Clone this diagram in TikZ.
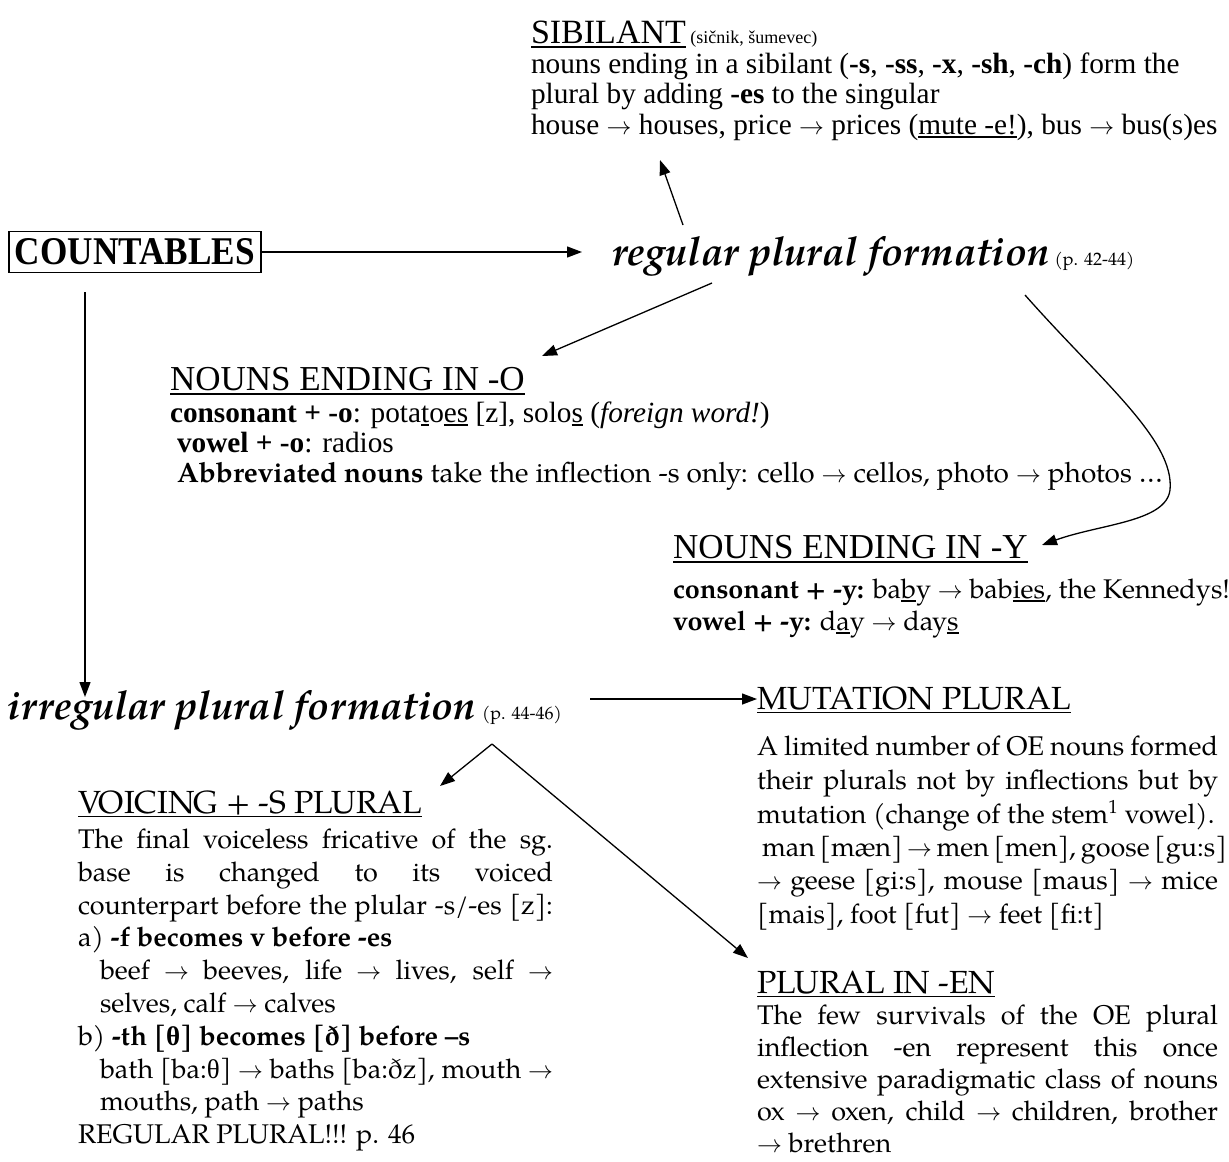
\documentclass[tikz,border=0pt]{standalone}
\usepackage{fontspec}
\usepackage{graphicx}
\setmainfont{Liberation Serif}
\newfontfamily\tms{Liberation Serif}
\newfontfamily\pal{TeX Gyre Pagella}
\usetikzlibrary{arrows.meta}
\newcommand\uln[1]{\setbox0\hbox{#1}\rlap{\rule[-0.14em]{\wd0}{0.055em}}\box0\relax}
\newcommand\jl[2]{\makebox[#1pt][s]{#2}}
\newcommand\bodyT{\tms\fontsize{29.3}{33}\selectfont}
\newcommand\bodyP{\pal\fontsize{27}{33}\selectfont}
\newcommand\headT{\tms\fontsize{35}{38}\selectfont}
\newcommand\headP{\pal\fontsize{32}{36}\selectfont}
\newcommand\smallP{\pal\fontsize{18}{20}\selectfont}
\newcommand\bigBI{\pal\bfseries\itshape\fontsize{40}{44}\selectfont}
\newcommand\rar{$\rightarrow$}
\tikzset{
  txt/.style={anchor=base west, inner sep=0pt, outer sep=0pt},
  con/.style={line width=1.3pt, -{Triangle[length=15pt,width=11pt]}},
}
\begin{document}
\begin{tikzpicture}[x=1pt,y=-1pt]
\useasboundingbox (0,0) rectangle (1229,1162);
\fill[white] (0,0) rectangle (1229,1162);

% SIBILANT block
\node[txt] (sibh) at (531,43) {\tms\fontsize{34}{36}\selectfont\uln{SIBILANT}\fontsize{18}{20}\selectfont\ (sičnik, šumevec)};
\node[txt] (sib1) at (531,73) {\bodyT nouns ending in a sibilant (\textbf{-s}, \textbf{-ss}, \textbf{-x}, \textbf{-sh}, \textbf{-ch}) form the};
\node[txt] (sib2) at (531,103) {\bodyT plural by adding \textbf{-es} to the singular};
\node[txt] (sib3) at (531,134) {\bodyT house \rar{} houses, price \rar{} prices (\uln{mute -e!}), bus \rar{} bus(s)es};

% COUNTABLES and regular
\node[draw, line width=1.6pt, inner sep=1pt, anchor=west, minimum width=252pt, minimum height=41pt] (cnt) at (8,252) {\resizebox{240pt}{26pt}{\tms\bfseries COUNTABLES}};
\node[txt] (reg) at (612,265) {\bigBI regular plural formation};
\node[txt, xshift=5pt] (regp) at (reg.base east) {\smallP (p. 42-44)};

% -O block
\node[txt] (oh) at (170,390) {\headT\uln{NOUNS ENDING IN -O}};
\node[txt] (o1) at (170,422) {\bodyT\textbf{consonant + -o}: pota\uln{t}o\uln{es} [z], solo\uln{s} (\textit{foreign word!})};
\node[txt] (o2) at (177,452) {\bodyT\textbf{vowel + -o}: radios};
\node[txt] (o3) at (177,482) {\pal\fontsize{28}{33}\selectfont\textbf{Abbreviated nouns} take the inflection -s only: cello \rar{} cellos, photo \rar{} photos …};

% -Y block
\node[txt] (yh) at (673,558) {\headT\uln{NOUNS ENDING IN -Y}};
\node[txt] (y1) at (673,598) {\bodyP\textbf{consonant + -y:} ba\uln{b}y \rar{} bab\uln{ies}, the Kennedys!};
\node[txt] (y2) at (673,630) {\bodyP\textbf{vowel + -y:} d\uln{a}y \rar{} day\uln{s}};

% irregular
\node[txt] (irr) at (8,719) {\bigBI irregular plural formation};
\node[txt, xshift=6pt] (irrp) at (irr.base east) {\smallP (p. 44-46)};

% MUTATION block
\node[txt] (muth) at (757,709) {\headP\uln{MUTATION PLURAL}};
\node[txt] (mu1) at (757,755) {\bodyP\jl{461}{A limited number of OE nouns formed}};
\node[txt] (mu2) at (757,789) {\bodyP\jl{461}{their plurals not by inflections but by}};
\node[txt] (mu3) at (757,823) {\bodyP mutation (change of the stem\textsuperscript{1} vowel).};
\node[txt] (mu4) at (762,856) {\bodyP\jl{456}{man [mæn] \rar{} men [men], goose [gu:s]}};
\node[txt] (mu5) at (757,889) {\bodyP\jl{461}{\rar{} geese [gi:s], mouse [maus] \rar{} mice}};
\node[txt] (mu6) at (757,923) {\bodyP [mais], foot [fut] \rar{} feet [fi:t]};

% VOICING block
\node[txt] (voh) at (78,813) {\headP\uln{VOICING + -S PLURAL}};
\node[txt] (vo1) at (78,848) {\bodyP\jl{475}{The final voiceless fricative of the sg.}};
\node[txt] (vo2) at (78,881) {\bodyP\jl{475}{base is changed to its voiced}};
\node[txt] (vo3) at (78,914) {\bodyP\jl{475}{counterpart before the plular -s/-es [z]:}};
\node[txt] (vo4) at (78,946) {\bodyP a) \textbf{-f becomes v before -es}};
\node[txt] (vo5) at (100,979) {\bodyP\jl{453}{beef \rar{} beeves, life \rar{} lives, self \rar}};
\node[txt] (vo6) at (100,1012) {\bodyP selves, calf \rar{} calves};
\node[txt] (vo7) at (78,1045) {\bodyP b) \textbf{-th [{\tms θ}] becomes [ð] before –s}};
\node[txt] (vo8) at (100,1078) {\bodyP\jl{453}{bath [ba:{\tms θ}] \rar{} baths [ba:ðz], mouth \rar}};
\node[txt] (vo9) at (100,1110) {\bodyP mouths, path \rar{} paths};
\node[txt] (vo10) at (78,1143) {\bodyP REGULAR PLURAL!!! p. 46};

% PLURAL IN -EN block
\node[txt] (enh) at (757,993) {\headP\uln{PLURAL IN -EN}};
\node[txt] (en1) at (757,1024) {\bodyP\jl{461}{The few survivals of the OE plural}};
\node[txt] (en2) at (757,1056) {\bodyP\jl{461}{inflection -en represent this once}};
\node[txt] (en3) at (757,1088) {\bodyP\jl{461}{extensive paradigmatic class of nouns}};
\node[txt] (en4) at (757,1120) {\bodyP\jl{461}{ox \rar{} oxen, child \rar{} children, brother}};
\node[txt] (en5) at (757,1152) {\bodyP\rar{} brethren};

% connector end points
\coordinate (regTop) at (683,225);
\coordinate (sibIn) at (660,160);
\coordinate (regIn) at (582,252);
\coordinate (regLow) at (712,283);
\coordinate (oIn) at (542,356);
\coordinate (regRight) at (1025,295);
\coordinate (yIn) at (1042,545);
\coordinate (cntLow) at (85,292);
\coordinate (irrIn) at (85,697);
\coordinate (irrOut) at (590,699);
\coordinate (mutIn) at (757,699);
\coordinate (apex) at (492,744);
\coordinate (voIn) at (440,786);
\coordinate (enIn) at (748,958);

% connectors
\draw[con] (regTop) -- (sibIn);
\draw[con] (cnt.east) -- (regIn);
\draw[con] (regLow) -- (oIn);
\draw[con] (regRight) .. controls (1100,380) and (1175,440) .. (1170,490) .. controls (1166,522) and (1100,524) .. (yIn);
\draw[con] (cntLow) -- (irrIn);
\draw[con] (irrOut) -- (mutIn);
\draw[con] (apex) -- (voIn);
\draw[con] (apex) -- (enIn);
\end{tikzpicture}
\end{document}
